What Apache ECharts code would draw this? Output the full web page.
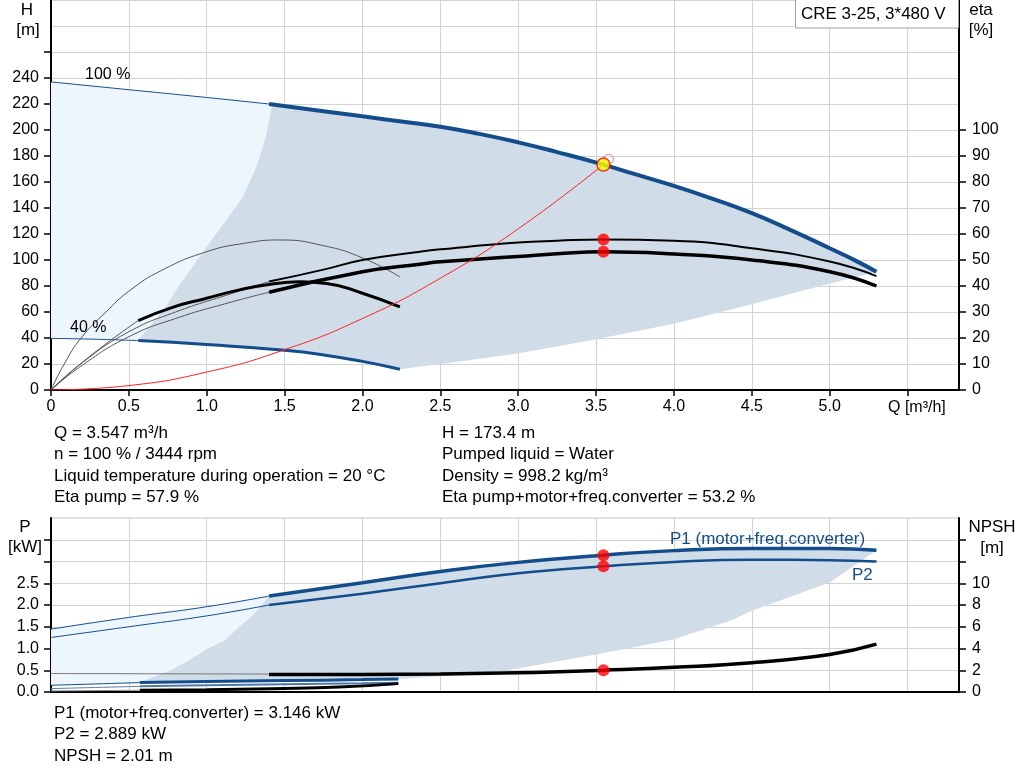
<!DOCTYPE html>
<html><head><meta charset="utf-8">
<script src="https://cdn.jsdelivr.net/npm/echarts/dist/echarts.min.js"></script>
<style>html,body{margin:0;padding:0;background:#fff}#c{width:1024px;height:781px}</style>
</head><body><div id="c"></div>
<script>
// ---------- tick labels ----------
const qTickLabels = ['0','0.5','1.0','1.5','2.0','2.5','3.0','3.5','4.0','4.5','5.0'];
const hTickLabels = ['0','20','40','60','80','100','120','140','160','180','200','220','240'];
const etaTickLabels = ['0','10','20','30','40','50','60','70','80','90','100'];
const pTickLabels = ['0.0','0.5','1.0','1.5','2.0','2.5'];
const npshTickLabels = ['0','2','4','6','8','10'];

// ---------- top chart: head curves (Q m3/h, H m) ----------
const h100Thin = [[0,237],[0.5,231],[1.0,225],[1.4,220]];
const h100 = [[1.4,220],[1.75,214.5],[2.0,210.5],[2.25,206.5],[2.5,202.5],[2.75,197],[3.0,190.5],[3.25,183],[3.547,173.4],[3.75,166],[4.0,157],[4.25,147],[4.5,136],[4.75,123],[5.0,109],[5.15,100.5],[5.3,91]];
const h40Thin = [[0,39.7],[0.3,39],[0.56,38]];
const h40 = [[0.56,38],[1.0,35],[1.5,30.5],[1.75,27],[2.0,22],[2.24,16]];
// area boundaries
const hLeftEdge = [[0.56,38],[0.64,50],[0.72,61],[0.81,78],[0.92,97],[1.09,125],[1.23,148],[1.32,172],[1.38,195],[1.42,220]];
const hLowerEdge = [[2.24,16],[2.5,20],[3.0,28],[3.5,39],[4.0,51],[4.5,66],[5.0,82],[5.3,91]];

// ---------- top chart: efficiency curves (Q, eta %) ----------
const etaPumpExt = [[0,0],[0.2,10.5],[0.5,22.4],[0.8,30],[1.144,36.8],[1.4,41.7]];
const etaPump = [[1.4,41.7],[1.75,46.3],[2.0,50],[2.37,53.2],[2.5,54.1],[3.0,56.7],[3.25,57.4],[3.547,57.9],[4.0,57.4],[4.5,54.5],[5.0,49.4],[5.3,43.8]];
const etaTotalExt = [[0,0],[0.2,9.5],[0.5,20.5],[0.8,27.5],[1.144,33.6],[1.4,37.6]];
const etaTotal = [[1.4,37.6],[2.0,45.5],[2.37,48.4],[2.5,49.3],[3.0,51.3],[3.25,52.4],[3.547,53.2],[4.0,52.3],[4.5,50],[5.0,45.5],[5.3,40]];
const eta40TotalExt = [[0,0],[0.25,13],[0.56,26.7]];
const eta40Total = [[0.56,26.7],[0.78,31.8],[1.0,35.3],[1.21,38.5],[1.42,40.8],[1.6,41.6],[1.77,41],[2.0,37.2],[2.24,32]];
const eta40Pump = [[0,0],[0.085,10],[0.193,20],[0.353,30],[0.5,38],[0.71,46],[1.0,53.2],[1.25,56.5],[1.47,57.7],[1.75,55.5],[2.0,50.8],[2.24,43.5]];
// system curve (Q, H)
const systemCurve = [[0,0],[0.5,3.4],[1.0,13.8],[1.5,31],[2.0,55],[2.5,86],[3.0,124],[3.547,173.4]];

// ---------- bottom chart: power (Q, kW) and NPSH (Q, m) ----------
const p1Thin = [[0,1.445],[0.5,1.715],[1.0,1.96],[1.4,2.205]];
const p1 = [[1.4,2.205],[2.0,2.51],[2.5,2.77],[3.0,2.98],[3.547,3.146],[4.0,3.25],[4.5,3.3],[5.0,3.3],[5.3,3.26]];
const p2Thin = [[0,1.253],[0.5,1.5],[1.0,1.75],[1.4,2.0]];
const p2 = [[1.4,2.0],[2.0,2.26],[2.5,2.5],[3.0,2.73],[3.547,2.889],[4.0,2.99],[4.5,3.04],[5.0,3.03],[5.3,3.0]];
const p1n40Thin = [[0,0.154],[0.57,0.216]];
const p1n40 = [[0.57,0.216],[1.0,0.24],[1.5,0.262],[2.0,0.285],[2.23,0.3]];
const p2n40Thin = [[0,0.078],[0.57,0.13]];
const p2n40 = [[0.57,0.13],[1.0,0.155],[1.5,0.18],[2.0,0.2],[2.23,0.21]];
const npshThin = [[0,1.7],[1.4,1.65]];
const npsh = [[1.4,1.6],[2.0,1.62],[2.5,1.66],[3.0,1.77],[3.547,2.01],[4.0,2.27],[4.5,2.7],[5.0,3.45],[5.3,4.4]];
const npsh40Thin = [[0,0.1],[0.57,0.16]];
const npsh40 = [[0.57,0.16],[1.0,0.2],[1.42,0.31],[1.85,0.46],[2.23,0.77]];
const pLeftEdge = [[0.57,0.216],[0.66,0.35],[0.77,0.5],[0.88,0.72],[1.0,0.98],[1.12,1.2],[1.21,1.5],[1.29,1.75],[1.354,2.0],[1.4,2.205]];
const pLowerEdge = [[2.23,0.3],[2.5,0.36],[2.9,0.48],[3.5,0.86],[4.0,1.21],[4.37,1.65],[4.5,1.87],[5.0,2.52],[5.3,3.26]];

// ---------- duty point ----------
const opQ = 3.547, opH = 173.4, opEtaPump = 57.9, opEtaTotal = 53.2, opP1 = 3.146, opP2 = 2.889, opNpsh = 2.01;
const dutyMarker = [3.58, 177.5];

const infoLeft = ['Q = 3.547 m³/h','n = 100 % / 3444 rpm','Liquid temperature during operation = 20 °C','Eta pump = 57.9 %'];
const infoRight = ['H = 173.4 m','Pumped liquid = Water','Density = 998.2 kg/m³','Eta pump+motor+freq.converter = 53.2 %'];
const infoBottom = ['P1 (motor+freq.converter) = 3.146 kW','P2 = 2.889 kW','NPSH = 2.01 m'];

// ---------- styling ----------
const FONT = '"Liberation Sans", Arial, sans-serif';
const BLUE = '#134d8b';
const LIGHT = '#edf5fd';
const DARK = '#d0dce8';
const GRIDC = '#d3d3d3';
const THIN = '#555555';

const rev = a => a.slice().reverse();
const rangeVals = (n, step) => Array.from({length:n}, (_, i) => +(i*step).toFixed(3));

function poly(points, color, xi, yi) {
  return {type:'custom', xAxisIndex:xi, yAxisIndex:yi, z:1, silent:true, data:[[0,0]],
    renderItem: (params, api) => ({type:'polygon', shape:{points: points.map(p => api.coord(p))}, style:{fill: color}})};
}
function line(data, color, width, xi, yi, z) {
  return {type:'line', data, xAxisIndex:xi, yAxisIndex:yi, symbol:'none', showSymbol:false,
    smooth:0.5, lineStyle:{color, width, cap:'butt'}, z: z || 3, silent:true};
}
function dot(pt, xi, yi, opts) {
  return Object.assign({type:'scatter', data:[pt], xAxisIndex:xi, yAxisIndex:yi, symbol:'circle', symbolSize:12,
    itemStyle:{color:'#ff0000'}, z:10, silent:true}, opts || {});
}

const axisLineStyle = {show:true, onZero:false, lineStyle:{color:'#000', width:2}};
const tickStyle = {color:'#000', width:1.5};
const labelBase = {color:'#000', fontSize:16, fontFamily:FONT};

const qTickVals = rangeVals(12, 0.5);
const qLabelVals = rangeVals(qTickLabels.length, 0.5);

const option = {
  animation:false,
  backgroundColor:'#fff',
  grid:[
    {left:51, top:0, width:908, height:390, show:true, borderColor:'#c4c4c4', borderWidth:1, backgroundColor:'transparent'},
    {left:51, top:518, width:908, height:174, show:true, borderColor:'#c4c4c4', borderWidth:1, backgroundColor:'transparent'}
  ],
  xAxis:[
    {gridIndex:0, type:'value', min:0, max:5.83, interval:0.5, axisLine:axisLineStyle,
     axisTick:{show:true, length:6, lineStyle:tickStyle, customValues:qTickVals},
     axisLabel:Object.assign({margin:9, customValues:qLabelVals,
       formatter:v => { const i = Math.round(v/0.5); return qTickLabels[i] || ''; }}, labelBase),
     splitLine:{show:true, lineStyle:{color:GRIDC, width:1}}},
    {gridIndex:1, type:'value', min:0, max:5.83, interval:0.5, axisLine:axisLineStyle,
     axisTick:{show:false, customValues:qTickVals}, axisLabel:{show:false},
     splitLine:{show:true, lineStyle:{color:GRIDC, width:1}}}
  ],
  yAxis:[
    {gridIndex:0, type:'value', position:'left', min:0, max:300, interval:20,
     axisLine:{show:false}, axisTick:{show:false}, axisLabel:{show:false},
     splitLine:{show:true, lineStyle:{color:GRIDC, width:1}}},
    {gridIndex:0, type:'value', position:'left', min:0, max:300, interval:20, axisLine:axisLineStyle,
     axisTick:{show:true, length:7, lineStyle:tickStyle, customValues:rangeVals(14, 20)},
     axisLabel:Object.assign({margin:12, customValues:rangeVals(hTickLabels.length, 20),
       formatter:v => hTickLabels[Math.round(v/20)] || ''}, labelBase),
     splitLine:{show:false}},
    {gridIndex:0, type:'value', position:'right', min:0, max:150, interval:10, axisLine:axisLineStyle,
     axisTick:{show:true, length:7, lineStyle:tickStyle, customValues:rangeVals(11, 10)},
     axisLabel:Object.assign({margin:13, customValues:rangeVals(etaTickLabels.length, 10),
       formatter:v => etaTickLabels[Math.round(v/10)] || ''}, labelBase),
     splitLine:{show:false}},
    {gridIndex:1, type:'value', position:'left', min:0, max:4, interval:0.5, axisLine:axisLineStyle,
     axisTick:{show:true, length:7, lineStyle:tickStyle, customValues:rangeVals(8, 0.5)},
     axisLabel:Object.assign({margin:12, customValues:rangeVals(pTickLabels.length, 0.5),
       formatter:v => pTickLabels[Math.round(v/0.5)] || ''}, labelBase),
     splitLine:{show:true, lineStyle:{color:GRIDC, width:1}}},
    {gridIndex:1, type:'value', position:'right', min:0, max:16, interval:2, axisLine:axisLineStyle,
     axisTick:{show:true, length:7, lineStyle:tickStyle, customValues:rangeVals(8, 2)},
     axisLabel:Object.assign({margin:13, customValues:rangeVals(npshTickLabels.length, 2),
       formatter:v => npshTickLabels[Math.round(v/2)] || ''}, labelBase),
     splitLine:{show:false}}
  ],
  series:[
    // top areas
    poly(h100Thin.concat(rev(hLeftEdge), rev(h40Thin)), LIGHT, 0, 0),
    poly(h100.concat(rev(hLowerEdge), rev(h40), hLeftEdge), DARK, 0, 0),
    // head curves
    line(h100Thin, BLUE, 1, 0, 0),
    line(h100, BLUE, 4, 0, 0, 4),
    line(h40Thin, BLUE, 1, 0, 0),
    line(h40, BLUE, 3, 0, 0, 4),
    // efficiency curves
    line(eta40Pump, THIN, 1, 0, 2),
    line(etaPumpExt, THIN, 1, 0, 2),
    line(etaPump, '#000', 2, 0, 2, 4),
    line(etaTotalExt, THIN, 1, 0, 2),
    line(etaTotal, '#000', 3.5, 0, 2, 4),
    line(eta40TotalExt, THIN, 1, 0, 2),
    line(eta40Total, '#000', 3, 0, 2, 4),
    // system curve
    line(systemCurve, '#ff2020', 1, 0, 0, 5),
    // duty points
    dot(dutyMarker, 0, 0, {symbolSize:10, itemStyle:{color:'rgba(0,0,0,0)', borderColor:'#ff3030', borderWidth:0.8}, z:9}),
    dot([opQ, opH], 0, 0, {symbolSize:13, itemStyle:{color:'#ffff00', borderColor:'#ff0000', borderWidth:1.5}}),
    dot([opQ, opEtaPump], 0, 2),
    dot([opQ, opEtaTotal], 0, 2),
    // bottom areas
    poly(p1Thin.concat(rev(pLeftEdge), rev(p1n40Thin)), LIGHT, 1, 3),
    poly(p1.concat(rev(pLowerEdge), rev(p1n40), pLeftEdge), DARK, 1, 3),
    // power curves
    line(p1Thin, BLUE, 1, 1, 3),
    line(p1, BLUE, 3.5, 1, 3, 4),
    line(p2Thin, BLUE, 1, 1, 3),
    line(p2, BLUE, 2.5, 1, 3, 4),
    line(p1n40Thin, BLUE, 1, 1, 3),
    line(p1n40, BLUE, 3, 1, 3, 4),
    line(p2n40Thin, '#5a7fae', 1, 1, 3),
    line(p2n40, '#4f78aa', 2, 1, 3, 4),
    // NPSH curves
    line(npshThin, '#777', 1, 1, 4),
    line(npsh, '#000', 3.5, 1, 4, 4),
    line(npsh40Thin, '#888', 1, 1, 4),
    line(npsh40, '#000', 3, 1, 4, 4),
    dot([opQ, opP1], 1, 3),
    dot([opQ, opP2], 1, 3),
    dot([opQ, opNpsh], 1, 4)
  ],
  graphic:[]
};

const G = option.graphic;
function txt(text, x, y, opts) {
  G.push(Object.assign({type:'text', x, y, z:100, silent:true,
    style:Object.assign({text, font:'17px ' + FONT, fill:'#000', verticalAlign:'middle', align:'left'}, (opts||{}).style || {})},
    opts && opts.el ? opts.el : {}));
}
// axis titles
txt('H', 27, 10, {style:{align:'center'}});
txt('[m]', 28, 30, {style:{align:'center'}});
txt('eta', 981, 10, {style:{align:'center'}});
txt('[%]', 981, 30, {style:{align:'center'}});
txt('P', 25, 527, {style:{align:'center'}});
txt('[kW]', 25, 547, {style:{align:'center'}});
txt('NPSH', 992, 527, {style:{align:'center'}});
txt('[m]', 992, 548, {style:{align:'center'}});
txt('Q [m³/h]', 888, 408, {style:{font:'16px ' + FONT}});
// curve annotations
txt('100 %', 85, 75, {style:{font:'16px ' + FONT}});
txt('40 %', 70, 328, {style:{font:'16px ' + FONT}});
txt('P1 (motor+freq.converter)', 670, 539, {style:{fill:BLUE}});
txt('P2', 852, 575, {style:{fill:BLUE}});
// title box
G.push({type:'rect', z:99, silent:true, shape:{x:795.5, y:-1, width:163, height:29}, style:{fill:'#fff', stroke:'#a0a0a0', lineWidth:1}});
txt('CRE 3-25, 3*480 V', 801, 14.5);
// info text
infoLeft.forEach((t, i) => txt(t, 54, 433.5 + i*21.3));
infoRight.forEach((t, i) => txt(t, 442, 433.5 + i*21.3));
infoBottom.forEach((t, i) => txt(t, 54, 713 + i*21.5));

const chart = echarts.init(document.getElementById('c'), null, {renderer:'canvas'});
chart.setOption(option);
</script></body></html>
